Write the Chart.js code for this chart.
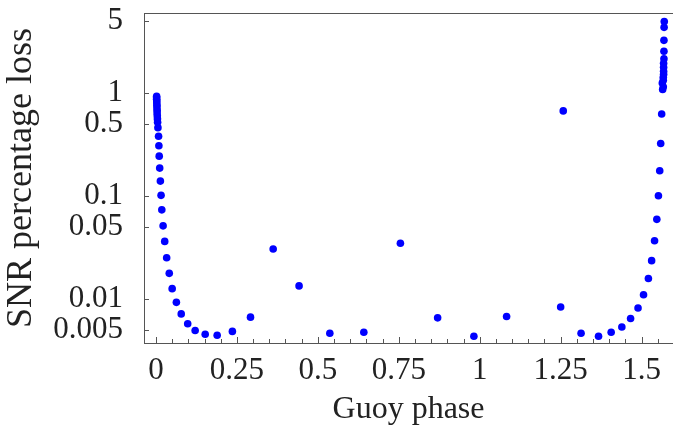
<!DOCTYPE html>
<html>
<head>
<meta charset="utf-8">
<script src="https://cdn.jsdelivr.net/npm/chart.js@4/dist/chart.umd.min.js"></script>
<style>
  html, body { margin: 0; padding: 0; background: #fff; }
  #wrap { width: 673px; height: 434px; }
</style>
</head>
<body>
<div id="wrap"><canvas id="chart" width="673" height="434"></canvas></div>
<script>
// Guoy phase (x) and SNR percentage loss (y)
const phase = [
  0.002, 0.002, 0.002, 0.0025, 0.0025, 0.003, 0.003, 0.0035, 0.0035, 0.004, 0.0045, 0.005,
  0.006, 0.008, 0.009, 0.010, 0.0115, 0.0136, 0.0157, 0.018, 0.022, 0.027, 0.033, 0.041,
  0.050, 0.063, 0.078, 0.098, 0.121, 0.152, 0.189, 0.236, 0.292, 0.362, 0.442, 0.537,
  0.642, 0.755, 0.870, 0.982, 1.083, 1.258, 1.250, 1.313, 1.367, 1.406, 1.439, 1.466,
  1.489, 1.506, 1.521, 1.531, 1.540, 1.547, 1.552, 1.556, 1.559, 1.562,
  1.565, 1.564, 1.567, 1.567, 1.567, 1.568, 1.568, 1.568, 1.568, 1.569, 1.569, 1.569,
  1.5695, 1.570
];
const loss = [
  0.93, 0.90, 0.87, 0.84, 0.80, 0.76, 0.72, 0.68, 0.64, 0.60, 0.56, 0.52,
  0.46, 0.38, 0.307, 0.243, 0.186, 0.139, 0.101, 0.073, 0.051, 0.036, 0.025, 0.0176,
  0.0125, 0.0092, 0.0071, 0.0057, 0.0049, 0.0045, 0.0044, 0.0048, 0.0066, 0.0304, 0.0133, 0.0046,
  0.0047, 0.0345, 0.0065, 0.0043, 0.0067, 0.67, 0.0083, 0.0046, 0.0043, 0.0047, 0.0053, 0.0064,
  0.0081, 0.0109, 0.0157, 0.0234, 0.0365, 0.059, 0.100, 0.175, 0.323, 0.625,
  1.08, 1.25, 1.15, 1.33, 1.42, 1.52, 1.63, 1.78, 1.95, 2.15, 2.55, 3.25,
  4.35, 4.95
];

const xTickValues = [0, 0.25, 0.5, 0.75, 1, 1.25, 1.5];
const xTickLabels = ['0', '0.25', '0.5', '0.75', '1', '1.25', '1.5'];
const yTickValues = [0.005, 0.01, 0.05, 0.1, 0.5, 1, 5];
const yTickLabels = ['0.005', '0.01', '0.05', '0.1', '0.5', '1', '5'];

const points = phase.map((p, i) => ({ x: p, y: loss[i] }));
const serif = "'Liberation Serif', 'DejaVu Serif', serif";

function isMajor(v) {
  return xTickValues.some(t => Math.abs(t - v) < 1e-6);
}

// frame and inward tick marks
const frameTicks = {
  id: 'frameTicks',
  beforeDatasetsDraw(chart) {
    const { ctx, chartArea: a, scales: { x, y } } = chart;
    ctx.save();
    ctx.strokeStyle = '#555';
    ctx.lineWidth = 1;
    ctx.strokeRect(a.left + 0.5, a.top + 0.5, a.right - a.left, a.bottom - a.top);
    ctx.beginPath();
    x.ticks.forEach(t => {
      const px = Math.round(x.getPixelForValue(t.value)) + 0.5;
      const len = isMajor(t.value) ? 6 : 4;
      ctx.moveTo(px, a.bottom);
      ctx.lineTo(px, a.bottom - len);
    });
    y.ticks.forEach(t => {
      const py = Math.round(y.getPixelForValue(t.value)) + 0.5;
      ctx.moveTo(a.left, py);
      ctx.lineTo(a.left + 5, py);
    });
    ctx.stroke();
    ctx.restore();
  }
};

new Chart(document.getElementById('chart'), {
  type: 'scatter',
  data: {
    datasets: [{
      data: points,
      backgroundColor: '#0000ff',
      borderWidth: 0,
      pointRadius: 3.8
    }]
  },
  options: {
    responsive: false,
    animation: false,
    layout: { autoPadding: false, padding: { top: 13, right: 0, left: 0, bottom: 0 } },
    plugins: { legend: { display: false }, tooltip: { enabled: false } },
    scales: {
      x: {
        type: 'linear',
        min: -0.037,
        max: 1.597,
        afterBuildTicks: scale => {
          const ticks = [];
          for (let i = 0; i <= 31; i++) ticks.push({ value: i * 0.05 });
          scale.ticks = ticks;
        },
        afterFit: scale => {
          scale.height = 91;
          scale.paddingLeft = 0;
          scale.paddingRight = 0;
        },
        grid: { display: false },
        border: { display: false },
        ticks: {
          autoSkip: false,
          maxRotation: 0,
          padding: 1,
          color: '#222',
          font: { family: serif, size: 31 },
          callback: v => {
            const i = xTickValues.findIndex(t => Math.abs(t - v) < 1e-6);
            return i >= 0 ? xTickLabels[i] : '';
          }
        },
        title: {
          display: true,
          text: 'Guoy phase',
          color: '#222',
          font: { family: serif, size: 32 },
          padding: { top: 0, bottom: 5 }
        }
      },
      y: {
        type: 'logarithmic',
        min: 0.0037,
        max: 6.0,
        afterBuildTicks: scale => {
          scale.ticks = yTickValues.map(v => ({ value: v }));
        },
        afterFit: scale => {
          scale.width = 144;
          scale.paddingTop = 0;
          scale.paddingBottom = 0;
        },
        grid: { display: false },
        border: { display: false },
        ticks: {
          autoSkip: false,
          padding: 13,
          color: '#222',
          font: { family: serif, size: 31 },
          callback: v => {
            const i = yTickValues.findIndex(t => Math.abs(t - v) < 1e-9);
            return i >= 0 ? yTickLabels[i] : '';
          }
        },
        title: {
          display: true,
          text: 'SNR percentage loss',
          color: '#222',
          font: { family: serif, size: 36 },
          padding: { top: 0, bottom: 0 }
        }
      }
    }
  },
  plugins: [frameTicks]
});
</script>
</body>
</html>
